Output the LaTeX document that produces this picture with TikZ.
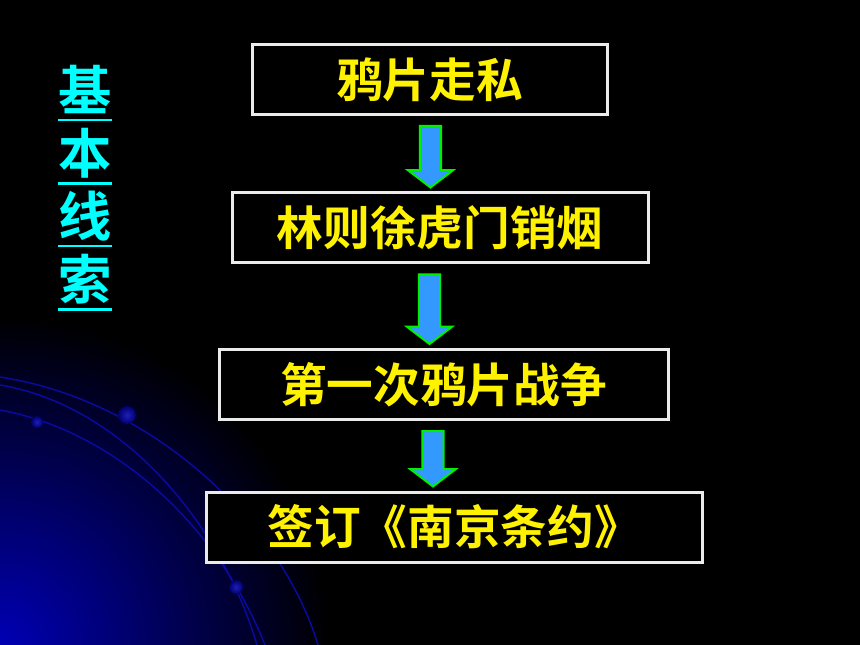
\documentclass[tikz,border=0pt]{standalone}
\usepackage{fontspec}
\newfontfamily\cjk{Noto Sans CJK SC}[BoldFont={Noto Sans CJK SC Bold}]
\usetikzlibrary{calc}
\definecolor{bgblue}{RGB}{0,0,180}
\definecolor{lineblue}{RGB}{10,10,160}
\definecolor{arrblue}{RGB}{51,153,255}
\definecolor{arrgreen}{RGB}{0,240,0}
\definecolor{framegray}{RGB}{235,235,235}
\definecolor{beadin}{RGB}{30,30,185}
\definecolor{beadout}{RGB}{0,0,110}
\definecolor{cluecyan}{RGB}{0,255,255}
\newcommand\clueline[1]{\setbox0\hbox{#1}\rlap{\rule[-8pt]{\wd0}{2pt}}\box0}
\tikzset{
  stepbox/.style={draw=framegray, line width=2.25pt, fill=black, inner sep=0pt,
    minimum height=70*0.75pt, text=yellow, font=\cjk\bfseries\fontsize{35pt}{40pt}\selectfont},
  blockarr/.style={draw=arrgreen, fill=arrblue, line width=1.5pt, line join=miter},
  orbit/.style={draw=lineblue, line width=1.1pt},
  bead/.style={inner color=beadin, outer color=beadout}
}
\begin{document}
\begin{tikzpicture}[x=0.75pt,y=-0.75pt]
\def\px{0.75pt}
\fill[black] (0,0) rectangle (860,645);
\begin{scope}
  \clip (0,0) rectangle (860,645);
  \fill[inner color=bgblue, outer color=black] (0,645) circle (330);
  \draw[orbit] (0,377) .. controls (150,400) and (280,520) .. (318,645);
  \draw[orbit] (0,385) .. controls (120,405) and (220,520) .. (257,645);
  \draw[orbit] (0,410) .. controls (110,430) and (215,520) .. (265,645);
  \foreach \cx/\cy/\r in {37/422/6, 127/415/9, 236/587/7}
    \fill[bead] (\cx,\cy) circle (\r);
\end{scope}
\node[text=cluecyan, align=center, font=\cjk\bfseries\fontsize{40pt}{47.25pt}\selectfont] (clue) at (85,188)
  {\clueline{基}\\\clueline{本}\\\clueline{线}\\\clueline{索}};
\node[stepbox, minimum width=355*\px] (smuggle) at (429.5,79.5) {鸦片走私};
\node[stepbox, minimum width=416*\px] (burn) at (440,228) {林则徐虎门销烟};
\node[stepbox, minimum width=449*\px] (war) at (443.5,384.5) {第一次鸦片战争};
\node[stepbox, minimum width=496*\px] (treaty) at (454,527) {签订《南京条约》};
\foreach \a/\b/\ax in {smuggle/burn/430.5, burn/war/429.5, war/treaty/433}
  \draw[blockarr] let \p1=(\a.south), \p2=(\b.north), \p3=(\ax,0) in
    (\x3-8pt,\y1-7.5pt) -- (\x3+8pt,\y1-7.5pt) -- (\x3+8pt,\y2+16pt) -- (\x3+17pt,\y2+16pt)
    -- (\x3,\y2+3pt) -- (\x3-17pt,\y2+16pt) -- (\x3-8pt,\y2+16pt) -- cycle;
\end{tikzpicture}
\end{document}
